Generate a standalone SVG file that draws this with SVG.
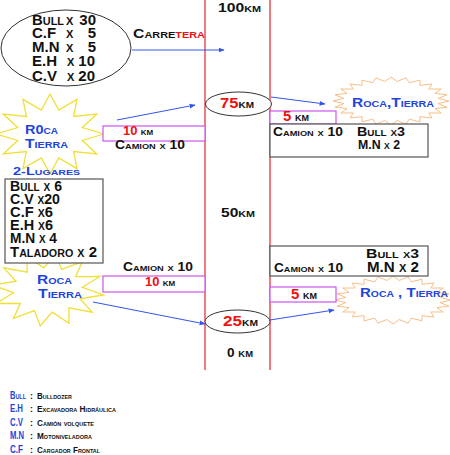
<svg xmlns="http://www.w3.org/2000/svg" width="450" height="455" viewBox="0 0 450 455">
<style>
text{font-family:"Liberation Sans",Arial,sans-serif;font-weight:bold;font-variant:small-caps;fill:#111}
.b{fill:#2244dd}
.r{fill:#ee1111}
.sm{font-size:12px}
.md{font-size:13px}
.lg{font-size:15px}
.lu{font-size:14px}
.lz{font-size:9px}
.la{font-size:11px}
.ell{fill:#fff;stroke:#333;stroke-width:1}
.pink{fill:#fff;stroke:#cc55ee;stroke-width:1.2}
.gray{fill:#fff;stroke:#555;stroke-width:1.2}
.red{stroke:#e8202a;stroke-width:1.2;fill:none}
.arr{stroke:#3355ee;stroke-width:1;fill:none;marker-end:url(#ah)}
.ys{fill:#fff;stroke:#f0df38;stroke-width:1.3}
.os{fill:#fff;stroke:#f6c08a;stroke-width:1}
</style>
<defs>
<marker id="ah" viewBox="0 0 10 10" refX="9" refY="5" markerWidth="6" markerHeight="6" orient="auto" markerUnits="userSpaceOnUse"><path d="M0,1 L10,5 L0,9 z" fill="#3355ee"/></marker>
<polygon id="star12" vector-effect="non-scaling-stroke" points="1,0 0.599,0.161 0.866,0.5 0.438,0.438 0.5,0.866 0.161,0.599 0,1 -0.161,0.599 -0.5,0.866 -0.438,0.438 -0.866,0.5 -0.599,0.161 -1,0 -0.599,-0.161 -0.866,-0.5 -0.438,-0.438 -0.5,-0.866 -0.161,-0.599 0,-1 0.161,-0.599 0.5,-0.866 0.438,-0.438 0.866,-0.5 0.599,-0.161"/>
<polygon id="star24" vector-effect="non-scaling-stroke" points="1,0 0.813,0.107 0.966,0.259 0.758,0.314 0.866,0.5 0.651,0.499 0.707,0.707 0.499,0.651 0.5,0.866 0.314,0.758 0.259,0.966 0.107,0.813 0,1 -0.107,0.813 -0.259,0.966 -0.314,0.758 -0.5,0.866 -0.499,0.651 -0.707,0.707 -0.651,0.499 -0.866,0.5 -0.758,0.314 -0.966,0.259 -0.813,0.107 -1,0 -0.813,-0.107 -0.966,-0.259 -0.758,-0.314 -0.866,-0.5 -0.651,-0.499 -0.707,-0.707 -0.499,-0.651 -0.5,-0.866 -0.314,-0.758 -0.259,-0.966 -0.107,-0.813 0,-1 0.107,-0.813 0.259,-0.966 0.314,-0.758 0.5,-0.866 0.499,-0.651 0.707,-0.707 0.651,-0.499 0.866,-0.5 0.758,-0.314 0.966,-0.259 0.813,-0.107"/>
</defs>

<g id="road">
<line class="red" x1="205" y1="0" x2="205" y2="370"/>
<line class="red" x1="270" y1="0" x2="270" y2="370"/>
<text class="md" x="218" y="12" textLength="43" lengthAdjust="spacingAndGlyphs">100km</text>
<text class="md" x="221" y="217" textLength="34" lengthAdjust="spacingAndGlyphs">50km</text>
<text class="md" x="227" y="357" textLength="26" lengthAdjust="spacingAndGlyphs">0 km</text>
</g>

<g id="star-tl">
<use href="#star12" class="ys" transform="translate(50,134) scale(54,40)"/>
<text class="md b" x="25" y="134" textLength="33" lengthAdjust="spacingAndGlyphs">R0ca</text>
<text class="md b" x="25" y="148" textLength="43" lengthAdjust="spacingAndGlyphs">Tierra</text>
</g>

<g id="star-bl">
<use href="#star12" class="ys" transform="translate(48,290) scale(56,36) rotate(8)"/>
<text class="md b" x="37" y="284" textLength="35" lengthAdjust="spacingAndGlyphs">Roca</text>
<text class="md b" x="38" y="298" textLength="44" lengthAdjust="spacingAndGlyphs">Tierra</text>
</g>

<g id="star-tr">
<use href="#star24" class="os" transform="translate(391,101) scale(58,24)"/>
<text class="md b" x="352" y="107" textLength="82" lengthAdjust="spacingAndGlyphs">Roca,Tierra</text>
</g>

<g id="star-br">
<use href="#star24" class="os" transform="translate(393,300) scale(58,24)"/>
<text class="md b" x="360" y="297" textLength="88" lengthAdjust="spacingAndGlyphs">Roca , Tierra</text>
</g>

<g id="fleet">
<ellipse class="ell" cx="66" cy="48" rx="65" ry="38"/>
<text class="lg" x="32" y="25" textLength="32" lengthAdjust="spacingAndGlyphs">Bull</text>
<text class="lg" x="32" y="38">C.F</text>
<text class="lg" x="32" y="52">M.N</text>
<text class="lg" x="32" y="66">E.H</text>
<text class="lg" x="32" y="81">C.V</text>
<text class="lg" x="66" y="25">x</text>
<text class="lg" x="66" y="38">x</text>
<text class="lg" x="66" y="52">x</text>
<text class="lg" x="67" y="66">x</text>
<text class="lg" x="67" y="81">x</text>
<text class="lg" x="96" y="25" text-anchor="end">30</text>
<text class="lg" x="96" y="38" text-anchor="end">5</text>
<text class="lg" x="96" y="52" text-anchor="end">5</text>
<text class="lg" x="95" y="66" text-anchor="end">10</text>
<text class="lg" x="95" y="81" text-anchor="end">20</text>
</g>

<g id="carretera">
<text class="md" x="133" y="38" textLength="72" lengthAdjust="spacingAndGlyphs">Carre<tspan class="r">tera</tspan></text>
</g>

<g id="km75">
<ellipse class="ell" cx="238.5" cy="104" rx="33" ry="12"/>
<text class="md" x="220" y="108" textLength="34" lengthAdjust="spacingAndGlyphs"><tspan class="r" font-size="15">75</tspan>km</text>
</g>

<g id="km25">
<ellipse class="ell" cx="237.5" cy="321.5" rx="32.5" ry="11.5"/>
<text class="md" x="223" y="326" textLength="35" lengthAdjust="spacingAndGlyphs"><tspan class="r" font-size="15">25</tspan>km</text>
</g>

<g id="lugares">
<text class="la b" x="13" y="175" textLength="67" lengthAdjust="spacingAndGlyphs">2-Lugares</text>
<rect class="gray" x="5" y="179" width="98" height="84"/>
<text class="lu" x="10" y="191" textLength="52" lengthAdjust="spacingAndGlyphs">Bull x 6</text>
<text class="lu" x="10" y="204" textLength="50" lengthAdjust="spacingAndGlyphs">C.V x20</text>
<text class="lu" x="10" y="217" textLength="43" lengthAdjust="spacingAndGlyphs">C.F x6</text>
<text class="lu" x="10" y="230" textLength="43" lengthAdjust="spacingAndGlyphs">E.H x6</text>
<text class="lu" x="10" y="243" textLength="47" lengthAdjust="spacingAndGlyphs">M.N x 4</text>
<text class="lu" x="10" y="257" textLength="87" lengthAdjust="spacingAndGlyphs">Taladoro x 2</text>
</g>

<g id="left-top">
<rect class="pink" x="103" y="126" width="102" height="15"/>
<text class="sm" x="123" y="135"><tspan class="r" font-size="13">10</tspan> <tspan font-size="11">km</tspan></text>
<text class="sm" x="115" y="149" textLength="70" lengthAdjust="spacingAndGlyphs">Camion x 10</text>
</g>

<g id="left-bottom">
<text class="sm" x="123" y="271" textLength="70" lengthAdjust="spacingAndGlyphs">Camion x 10</text>
<rect class="pink" x="103" y="276" width="102" height="16"/>
<text class="sm" x="145" y="286"><tspan class="r" font-size="13">10</tspan> <tspan font-size="11">km</tspan></text>
</g>

<g id="right-top">
<rect class="pink" x="270" y="111" width="66" height="13"/>
<text class="md" x="283" y="121"><tspan class="r" font-size="15">5</tspan> km</text>
<rect class="gray" x="270" y="124" width="158" height="33"/>
<text class="sm" x="273" y="136" textLength="70" lengthAdjust="spacingAndGlyphs">Camion x 10</text>
<text class="md" x="357" y="136" textLength="48" lengthAdjust="spacingAndGlyphs">Bull x3</text>
<text class="md" x="358" y="149" textLength="42" lengthAdjust="spacingAndGlyphs">M.N x 2</text>
</g>

<g id="right-bottom">
<rect class="gray" x="270" y="246" width="158" height="30"/>
<text class="md" x="366" y="258" textLength="53" lengthAdjust="spacingAndGlyphs">Bull x3</text>
<text class="lg" x="367" y="272" textLength="52" lengthAdjust="spacingAndGlyphs">M.N x 2</text>
<text class="sm" x="274" y="272" textLength="69" lengthAdjust="spacingAndGlyphs">Camion x 10</text>
<rect class="pink" x="270" y="287" width="66" height="15"/>
<text class="md" x="291" y="299"><tspan class="r" font-size="15">5</tspan> km</text>
</g>

<g id="connectors">
<line class="arr" x1="132" y1="50" x2="224" y2="50"/>
<line class="arr" x1="117" y1="120" x2="195" y2="105"/>
<line class="arr" x1="271" y1="97" x2="325" y2="104"/>
<line class="arr" x1="93" y1="302" x2="205" y2="324"/>
<line class="arr" x1="270" y1="320" x2="334" y2="310"/>
</g>

<g id="legend">
<text class="la b" x="10" y="399" textLength="16" lengthAdjust="spacingAndGlyphs">Bull</text>
<text class="la b" x="10" y="412" textLength="13" lengthAdjust="spacingAndGlyphs">E.H</text>
<text class="la b" x="10" y="426" textLength="13" lengthAdjust="spacingAndGlyphs">C.V</text>
<text class="la b" x="10" y="439" textLength="14" lengthAdjust="spacingAndGlyphs">M.N</text>
<text class="la b" x="10" y="453" textLength="13" lengthAdjust="spacingAndGlyphs">C.F</text>
<text class="lz" x="30" y="399">:</text>
<text class="lz" x="30" y="412">:</text>
<text class="lz" x="30" y="426">:</text>
<text class="lz" x="30" y="439">:</text>
<text class="lz" x="30" y="453">:</text>
<text class="lz" x="37" y="399" textLength="35" lengthAdjust="spacingAndGlyphs">Bulldozer</text>
<text class="lz" x="37" y="412" textLength="79" lengthAdjust="spacingAndGlyphs">Excavadora Hidráulica</text>
<text class="lz" x="37" y="426" textLength="57" lengthAdjust="spacingAndGlyphs">Camión volquete</text>
<text class="lz" x="37" y="439" textLength="55" lengthAdjust="spacingAndGlyphs">Motoniveladora</text>
<text class="lz" x="37" y="453" textLength="63" lengthAdjust="spacingAndGlyphs">Cargador Frontal</text>
</g>
</svg>
